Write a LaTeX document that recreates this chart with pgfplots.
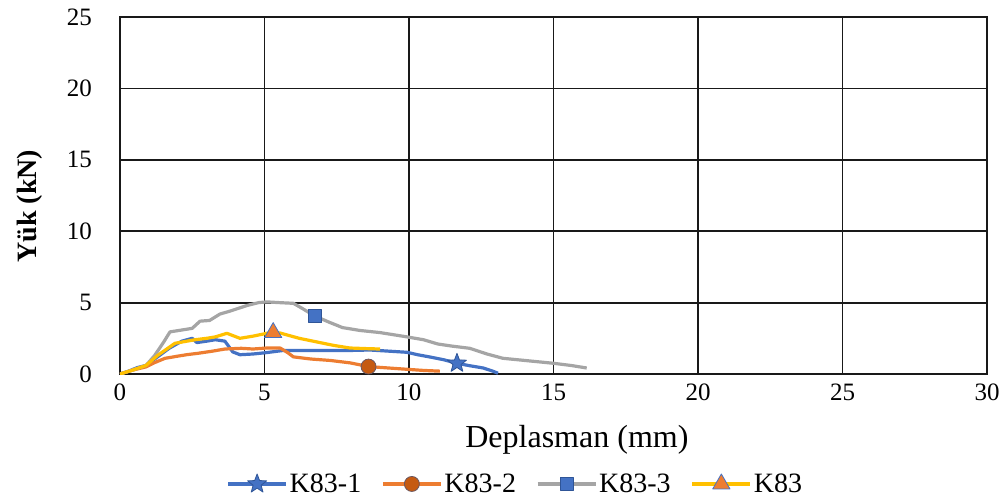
\documentclass[border=0pt]{standalone}
\usepackage{fontspec}
\setmainfont{Liberation Serif}
\usepackage{pgfplots}
\pgfplotsset{compat=1.18}
\definecolor{cblue}{HTML}{4472C4}
\definecolor{cblueedge}{HTML}{2F5597}
\definecolor{corange}{HTML}{ED7D31}
\definecolor{corangedark}{HTML}{C55A11}
\definecolor{cgray}{HTML}{A5A5A5}
\definecolor{cyellow}{HTML}{FFC000}
\pgfdeclareplotmark{fstar}{%
  \pgfpathmoveto{\pgfpointpolar{90}{\pgfplotmarksize}}%
  \pgfpathlineto{\pgfpointpolar{126}{0.42\pgfplotmarksize}}%
  \pgfpathlineto{\pgfpointpolar{162}{\pgfplotmarksize}}%
  \pgfpathlineto{\pgfpointpolar{198}{0.42\pgfplotmarksize}}%
  \pgfpathlineto{\pgfpointpolar{234}{\pgfplotmarksize}}%
  \pgfpathlineto{\pgfpointpolar{270}{0.42\pgfplotmarksize}}%
  \pgfpathlineto{\pgfpointpolar{306}{\pgfplotmarksize}}%
  \pgfpathlineto{\pgfpointpolar{342}{0.42\pgfplotmarksize}}%
  \pgfpathlineto{\pgfpointpolar{18}{\pgfplotmarksize}}%
  \pgfpathlineto{\pgfpointpolar{54}{0.42\pgfplotmarksize}}%
  \pgfpathclose
  \pgfusepathqfillstroke}
\begin{document}
\begin{tikzpicture}
\begin{axis}[
  at={(0,0)}, anchor=south west,
  scale only axis, width=867pt, height=357pt,
  xmin=0, xmax=30, ymin=0, ymax=25,
  xtick={0,5,...,30}, ytick={0,5,...,25},
  grid=major, major grid style={black!90, line width=1.8pt},
  axis line style={black!90, line width=1.9pt},
  major tick length=0pt,
  /pgf/number format/assume math mode=true,
  tick label style={font=\fontsize{25}{25}\selectfont},
  xticklabel style={anchor=north, inner sep=0pt, yshift=-10pt},
  yticklabel style={anchor=east, inner sep=0pt, xshift=-28pt},
  xlabel={Deplasman (mm)},
  xlabel style={font=\fontsize{32}{32}\selectfont, at={(axis description cs:0.527,-0.207)}, anchor=base},
  ylabel={Yük (kN)},
  ylabel style={font=\fontsize{28}{28}\selectfont\bfseries, at={(axis description cs:-0.1038,0.47)}, anchor=center, rotate=0},
  legend style={at={(axis description cs:0.456,-0.308)}, anchor=center, draw=none, fill=none,
    legend columns=4, font=\fontsize{28}{28}\selectfont,
    /tikz/every even column/.append style={column sep=18pt},
    inner sep=0pt},
  legend image code/.code={\draw[#1, mark indices={2}] plot coordinates {(0pt,0pt) (29pt,0pt) (58pt,0pt)};},
  every axis plot/.append style={line width=3.2pt, line join=round},
]
\addplot[cblue, mark=fstar, mark size=10pt, mark indices={27},
  mark options={fill=cblue, draw=cblueedge, line width=0.8pt}] coordinates {
(0,0) (0.3,0.2) (0.6,0.45) (0.9,0.6) (1.3,1.2) (1.7,1.8) (2.14,2.3) (2.5,2.5) (2.66,2.2) (3.0,2.3) (3.3,2.4) (3.63,2.3) (3.9,1.55) (4.15,1.35) (4.6,1.4) (5.08,1.5) (5.65,1.65) (6.5,1.65) (7.3,1.65) (8.0,1.65) (8.65,1.68) (9.3,1.6) (9.93,1.52) (10.3,1.35) (10.7,1.2) (11.2,1.0) (11.66,0.75) (12.1,0.58) (12.57,0.42) (12.9,0.2) (13.08,0.05)};
\addlegendentry{K83-1}
\addplot[corange, mark=*, mark size=7.5pt, mark indices={20},
  mark options={fill=corangedark, draw=cblueedge!60!corangedark, line width=0.8pt}] coordinates {
(0,0) (0.4,0.25) (0.9,0.5) (1.2,0.8) (1.56,1.1) (2.0,1.25) (2.3,1.35) (2.7,1.45) (3.2,1.6) (3.63,1.75) (4.2,1.8) (4.6,1.75) (5.08,1.82) (5.54,1.82) (5.8,1.5) (6.0,1.2) (6.6,1.05) (7.27,0.95) (7.96,0.78) (8.6,0.52) (9.3,0.42) (10.0,0.32) (10.5,0.25) (11.07,0.2)};
\addlegendentry{K83-2}
\addplot[cgray, mark=square*, mark size=6.5pt, mark indices={19},
  mark options={fill=cblue, draw=cblueedge, line width=0.8pt}] coordinates {
(0,0) (0.4,0.25) (0.9,0.6) (1.2,1.3) (1.5,2.2) (1.73,2.95) (2.2,3.1) (2.5,3.2) (2.77,3.7) (3.1,3.75) (3.46,4.2) (3.8,4.4) (4.4,4.8) (4.8,5.0) (5.08,5.05) (5.5,5.0) (6.0,4.95) (6.3,4.6) (6.75,4.05) (7.27,3.6) (7.7,3.25) (8.3,3.05) (9.0,2.9) (9.93,2.6) (10.5,2.4) (11.0,2.1) (11.5,1.95) (12.1,1.8) (12.7,1.4) (13.25,1.1) (14.0,0.95) (15.0,0.75) (15.6,0.6) (16.15,0.42)};
\addlegendentry{K83-3}
\addplot[cyellow, mark=triangle*, mark size=10pt, mark indices={13},
  mark options={fill=corange, draw=cblue, line width=0.8pt}] coordinates {
(0,0) (0.4,0.25) (0.9,0.6) (1.3,1.3) (1.9,2.15) (2.6,2.4) (3.0,2.5) (3.3,2.6) (3.7,2.85) (4.15,2.5) (4.6,2.65) (5.08,2.85) (5.3,2.9) (5.54,2.87) (6.2,2.5) (6.8,2.25) (7.4,2.0) (7.96,1.82) (8.5,1.78) (9.0,1.75)};
\addlegendentry{K83}
\end{axis}
\pgfresetboundingbox
\path[use as bounding box] (-120pt,-125pt) rectangle (885pt,374pt);
\end{tikzpicture}
\end{document}
